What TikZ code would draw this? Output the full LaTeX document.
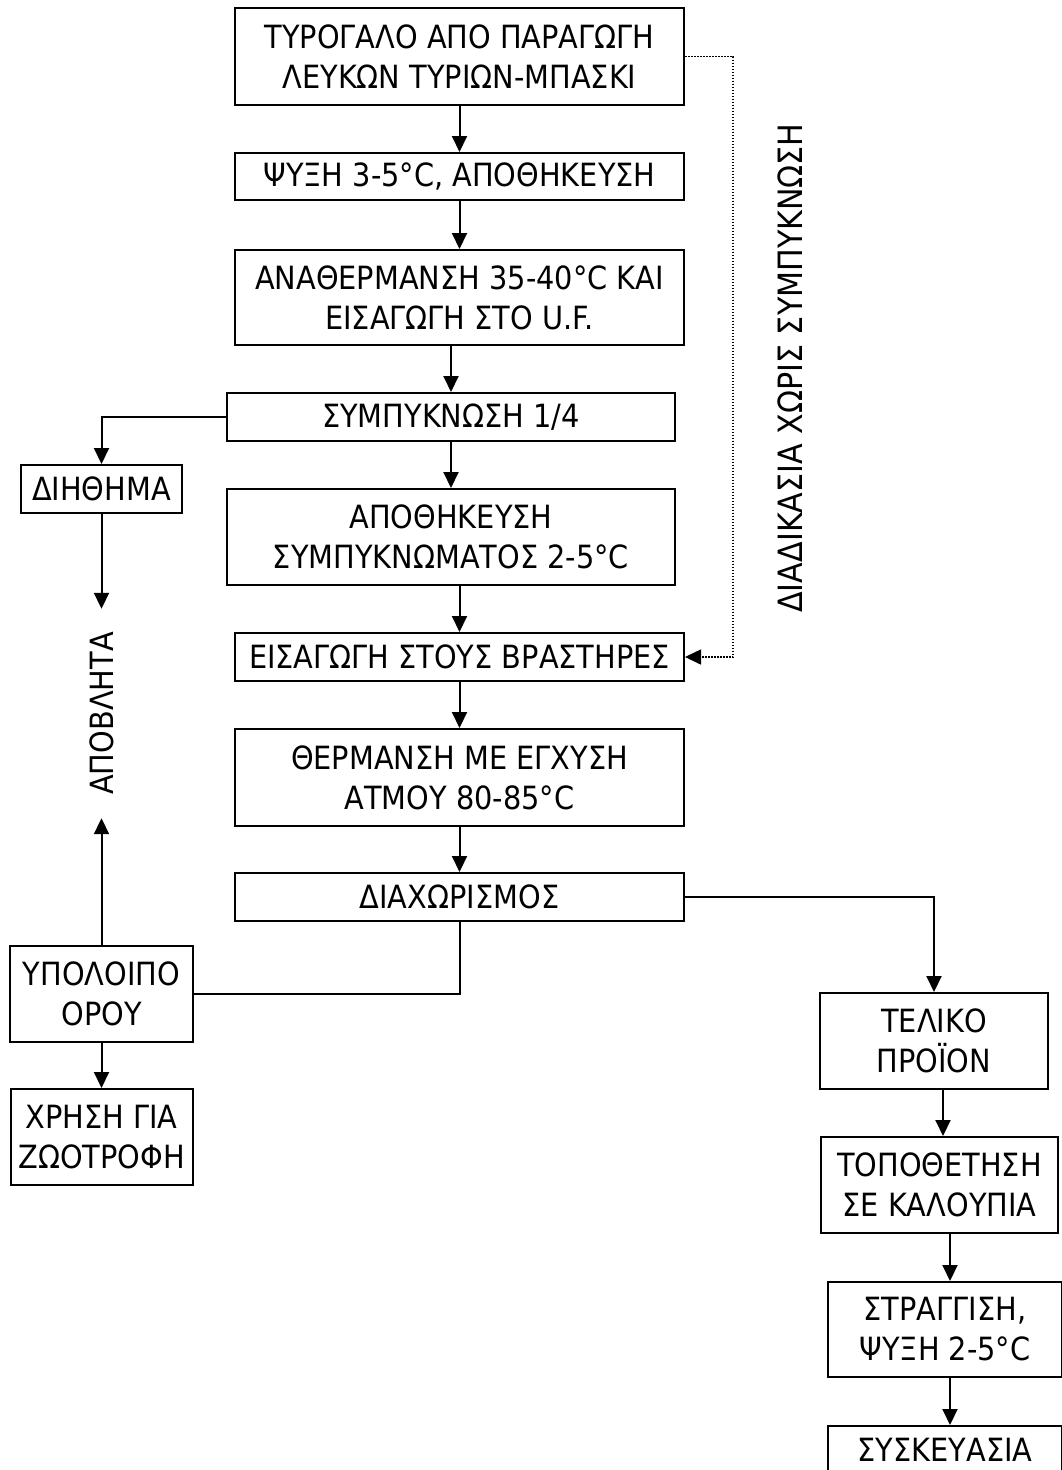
\documentclass[tikz,border=0pt]{standalone}
\usepackage{fontspec}
\setmainfont{DejaVu Sans}[FakeStretch=0.9]
\usetikzlibrary{arrows.meta}
\begin{document}
\begin{tikzpicture}[x=1pt,y=-1pt,
  box/.style={draw, line width=2pt, inner sep=0pt, align=center,
    font=\fontsize{32}{40}\selectfont},
  lbl/.style={inner sep=0pt, font=\fontsize{32}{40}\selectfont, rotate=90},
  conn/.style={line width=2pt, -{Triangle[length=16pt,width=15pt]}},
  plain/.style={line width=2pt},
  dotconn/.style={line width=1.6pt, dash pattern=on 1.6pt off 1.4pt, -{Triangle[length=16pt,width=15pt]}}]
\useasboundingbox[fill=white] (0,0) rectangle (1061,1470);

% main column
\node[box, minimum width=449, minimum height=97] (b1) at (459.5,56.5)
  {ΤΥΡΟΓΑΛΟ ΑΠΟ ΠΑΡΑΓΩΓΗ\\ΛΕΥΚΩΝ ΤΥΡΙΩΝ-ΜΠΑΣΚΙ};
\node[box, minimum width=449, minimum height=47] (b2) at (459.5,176.5)
  {ΨΥΞΗ 3-5°C, ΑΠΟΘΗΚΕΥΣΗ};
\node[box, minimum width=449, minimum height=95] (b3) at (459.5,297.5)
  {ΑΝΑΘΕΡΜΑΝΣΗ 35-40°C ΚΑΙ\\ΕΙΣΑΓΩΓΗ ΣΤΟ U.F.};
\node[box, minimum width=448, minimum height=48] (b4) at (451,417)
  {ΣΥΜΠΥΚΝΩΣΗ 1/4};
\node[box, minimum width=448, minimum height=96] (b5) at (451,537)
  {ΑΠΟΘΗΚΕΥΣΗ\\ΣΥΜΠΥΚΝΩΜΑΤΟΣ 2-5°C};
\node[box, minimum width=449, minimum height=48] (b6) at (459.5,657)
  {ΕΙΣΑΓΩΓΗ ΣΤΟΥΣ ΒΡΑΣΤΗΡΕΣ};
\node[box, minimum width=449, minimum height=97] (b7) at (459.5,777.5)
  {ΘΕΡΜΑΝΣΗ ΜΕ ΕΓΧΥΣΗ\\ΑΤΜΟΥ 80-85°C};
\node[box, minimum width=449, minimum height=48] (b8) at (459.5,897)
  {ΔΙΑΧΩΡΙΣΜΟΣ};

% left column
\node[box, minimum width=161, minimum height=48] (d) at (101.5,489) {ΔΙΗΘΗΜΑ};
\node[lbl, minimum width=209, minimum height=46] (apo) at (101.5,713.5) {ΑΠΟΒΛΗΤΑ};
\node[box, minimum width=183, minimum height=96] (y) at (101.5,994) {ΥΠΟΛΟΙΠΟ\\ΟΡΟΥ};
\node[box, minimum width=182, minimum height=96] (x) at (101.5,1137) {ΧΡΗΣΗ ΓΙΑ\\ΖΩΟΤΡΟΦΗ};

% right column
\node[box, minimum width=228, minimum height=96] (t) at (934,1041) {ΤΕΛΙΚΟ\\ΠΡΟΪΟΝ};
\node[box, minimum width=237, minimum height=96] (p) at (939.5,1185) {ΤΟΠΟΘΕΤΗΣΗ\\ΣΕ ΚΑΛΟΥΠΙΑ};
\node[box, minimum width=234, minimum height=95] (s) at (945,1329.5) {ΣΤΡΑΓΓΙΣΗ,\\ΨΥΞΗ 2-5°C};
\node[box, minimum width=234, minimum height=48] (k) at (945,1450) {ΣΥΣΚΕΥΑΣΙΑ};

% side label
\node[lbl, font=\fontsize{33.5}{40}\selectfont] (side) at (790,368) {ΔΙΑΔΙΚΑΣΙΑ ΧΩΡΙΣ ΣΥΜΠΥΚΝΩΣΗ};
\coordinate (dr) at (733,0);
\coordinate (ax) at (950,0);
\coordinate (ax2) at (943,0);

% connectors
\draw[conn] (b1) -- (b2);
\draw[conn] (b2) -- (b3);
\draw[conn] (b3.south -| b4) -- (b4.north);
\draw[conn] (b4) -- (b5);
\draw[conn] (b5.south -| b6) -- (b6.north);
\draw[conn] (b6) -- (b7);
\draw[conn] (b7) -- (b8);
\draw[conn] (b4.west) -| (d.north);
\draw[conn] (d.south) -- (apo.east);
\draw[conn] (y.north) -- (apo.west);
\draw[plain] (b8.south) |- (y.east);
\draw[conn] (y.south) -- (y.south |- x.north);
\draw[conn] (b8.east) -| (t.north);
\draw[conn] (t.south -| ax2) -- (p.north -| ax2);
\draw[conn] (p.south -| ax) -- (s.north -| ax);
\draw[conn] (s.south -| ax) -- (k.north -| ax);
\draw[dotconn] (b1.east) -- (b1.east -| dr) -- (b6.east -| dr) -- (b6.east);
\end{tikzpicture}
\end{document}
